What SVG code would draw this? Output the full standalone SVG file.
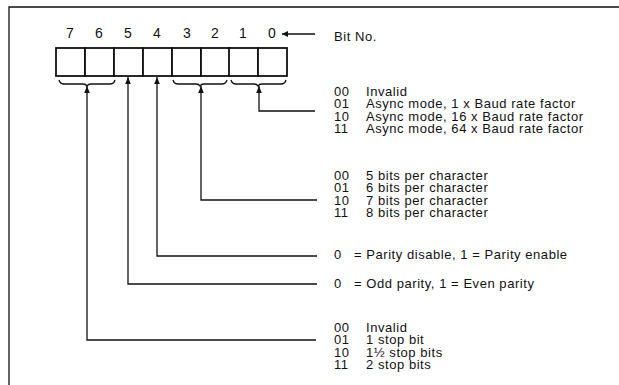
<svg xmlns="http://www.w3.org/2000/svg" width="619" height="385" viewBox="0 0 619 385">
<style>
.t{font-family:"Liberation Sans",Arial,sans-serif;font-size:13px;letter-spacing:0.55px;fill:#111}
.n{font-family:"Liberation Sans",Arial,sans-serif;font-size:14px;fill:#111}
.ln{stroke:#111;stroke-width:1.3;fill:none}
.cell{stroke:#111;stroke-width:1.8;fill:#fff}
.br{stroke:#111;stroke-width:1.3;fill:none}
</style>
<defs>
<marker id="ah" viewBox="0 0 10 10" refX="10" refY="5" markerWidth="7" markerHeight="7" markerUnits="userSpaceOnUse" orient="auto">
<path d="M0,1 L10,5 L0,9 Z" fill="#111"/>
</marker>
<marker id="ahw" viewBox="0 0 10 10" refX="10" refY="5" markerWidth="10" markerHeight="6" markerUnits="userSpaceOnUse" orient="auto">
<path d="M0,0 L10,5 L0,10 Z" fill="#111"/>
</marker>
</defs>
<rect width="619" height="385" fill="#fff"/>
<g id="frame"><path class="ln" d="M9,385 V7 H619" stroke-width="1.6"/></g>

<g id="register">
<text class="n" x="70" y="38" text-anchor="middle">7</text>
<text class="n" x="99" y="38" text-anchor="middle">6</text>
<text class="n" x="128" y="38" text-anchor="middle">5</text>
<text class="n" x="157" y="38" text-anchor="middle">4</text>
<text class="n" x="187" y="38" text-anchor="middle">3</text>
<text class="n" x="215" y="38" text-anchor="middle">2</text>
<text class="n" x="243" y="38" text-anchor="middle">1</text>
<text class="n" x="272" y="38" text-anchor="middle">0</text>
<rect class="cell" x="56" y="48" width="29" height="28"/>
<rect class="cell" x="85" y="48" width="29" height="28"/>
<rect class="cell" x="114" y="48" width="29" height="28"/>
<rect class="cell" x="143" y="48" width="29" height="28"/>
<rect class="cell" x="172" y="48" width="29" height="28"/>
<rect class="cell" x="201" y="48" width="29" height="28"/>
<rect class="cell" x="229" y="48" width="29" height="28"/>
<rect class="cell" x="258" y="48" width="29" height="28"/>
<path class="br" d="M59,80 q1,4 5,4 h19 q3,0 4,2 q1,-2 4,-2 h19 q4,0 5,-4"/>
<path class="br" d="M173,80 q1,4 5,4 h18 q3,0 4,2 q1,-2 4,-2 h18 q4,0 5,-4"/>
<path class="br" d="M231,80 q1,4 5,4 h18 q3,0 4,2 q1,-2 4,-2 h19 q4,0 5,-4"/>
</g>

<g id="bitno">
<text class="t" x="334" y="41">Bit No.</text>
</g>

<g id="connectors">
<path class="ln" d="M315,34 H282" marker-end="url(#ahw)"/>
<path class="ln" d="M315,111 H259 V86" marker-end="url(#ah)"/>
<path class="ln" d="M317,200 H201 V86" marker-end="url(#ah)"/>
<path class="ln" d="M317,256 H157 V77" marker-end="url(#ah)"/>
<path class="ln" d="M317,284 H128 V77" marker-end="url(#ah)"/>
<path class="ln" d="M316,340 H87 V86" marker-end="url(#ah)"/>
</g>

<g id="mode">
<text class="t" x="334" y="96"><tspan x="334" y="96">00</tspan><tspan x="334" y="108.3">01</tspan><tspan x="334" y="120.7">10</tspan><tspan x="334" y="133">11</tspan></text>
<text class="t" x="366" y="96"><tspan x="366" y="96">Invalid</tspan><tspan x="366" y="108.3">Async mode, 1 x Baud rate factor</tspan><tspan x="366" y="120.7">Async mode, 16 x Baud rate factor</tspan><tspan x="366" y="133">Async mode, 64 x Baud rate factor</tspan></text>
</g>
<g id="charlen">
<text class="t" x="334" y="180"><tspan x="334" y="180">00</tspan><tspan x="334" y="192.3">01</tspan><tspan x="334" y="204.7">10</tspan><tspan x="334" y="217">11</tspan></text>
<text class="t" x="366" y="180"><tspan x="366" y="180">5 bits per character</tspan><tspan x="366" y="192.3">6 bits per character</tspan><tspan x="366" y="204.7">7 bits per character</tspan><tspan x="366" y="217">8 bits per character</tspan></text>
</g>
<g id="parityen">
<text class="t" x="334" y="259">0</text><text class="t" x="354" y="259">= Parity disable, 1 = Parity enable</text>
</g>
<g id="paritytype">
<text class="t" x="334" y="288">0</text><text class="t" x="354" y="288">= Odd parity, 1 = Even parity</text>
</g>
<g id="stopbits">
<text class="t" x="334" y="332"><tspan x="334" y="332">00</tspan><tspan x="334" y="344.3">01</tspan><tspan x="334" y="356.7">10</tspan><tspan x="334" y="369">11</tspan></text>
<text class="t" x="366" y="332"><tspan x="366" y="332">Invalid</tspan><tspan x="366" y="344.3">1 stop bit</tspan><tspan x="366" y="356.7">1½ stop bits</tspan><tspan x="366" y="369">2 stop bits</tspan></text>
</g>
</svg>
